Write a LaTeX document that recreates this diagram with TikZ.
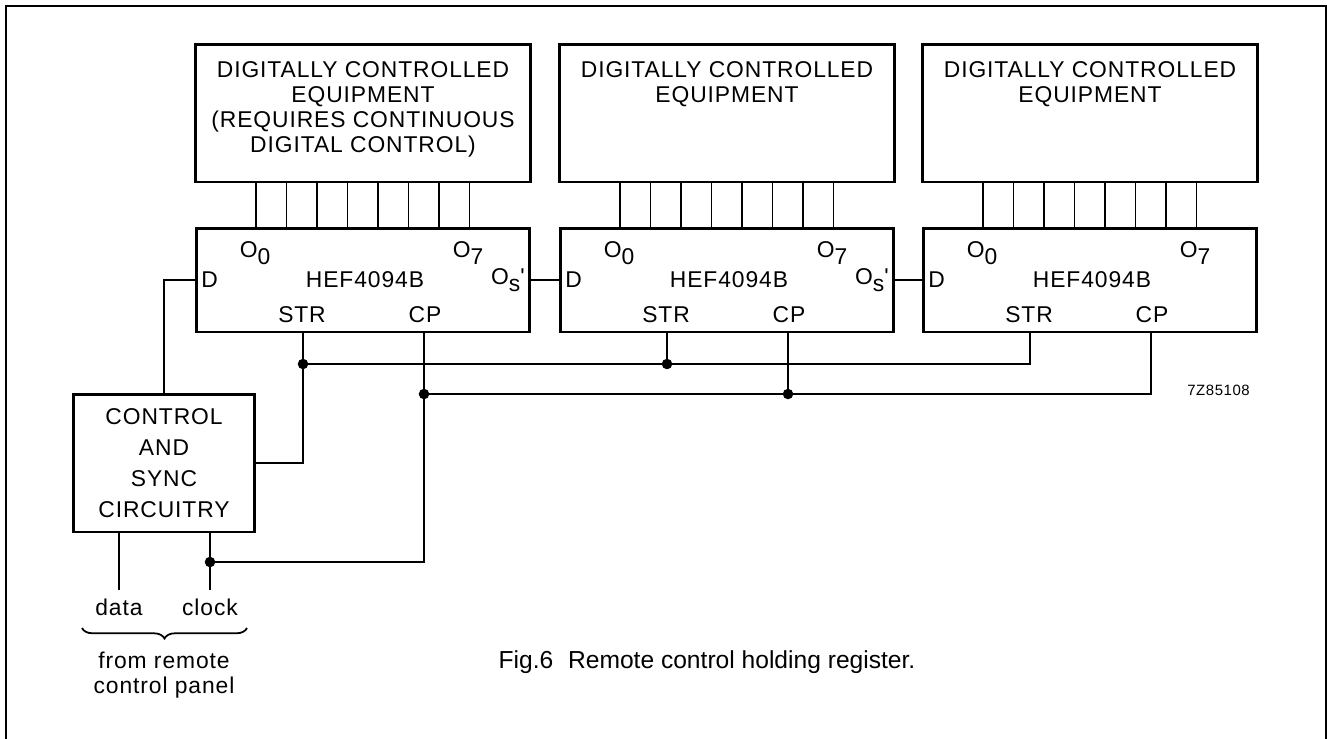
\documentclass[tikz,border=0pt]{standalone}
\usepackage{fontspec}
\setmainfont{Liberation Sans}
\newfontfamily\chipfont[LetterSpace=4]{Liberation Sans}
\usetikzlibrary{decorations.pathreplacing}

\begin{document}
\begin{tikzpicture}[x=0.02cm, y=-0.02cm,
    blk/.style={draw, line width=1.7pt, minimum width=6.7cm, minimum height=2.76cm},
    chip/.style={draw, line width=1.7pt, minimum width=6.66cm, minimum height=2.08cm},
    wire/.style={line width=1pt},
    txt/.style={font=\chipfont\fontsize{13}{14.2}\selectfont, align=center},
    dot/.style={circle, fill, inner sep=0pt, minimum size=6pt}]
    \useasboundingbox (0,0) rectangle (1327,738);
    \draw[line width=1.2pt] (6,760) -- (6,6) -- (1326,6) -- (1326,760);
    % equipment and registers
    \foreach \n/\x in {1/363, 2/727, 3/1090} {
        \node[blk] (e\n) at (\x,113) {};
        \node[chip] (c\n) at (\x,280) {};
        \node[txt, anchor=west] (c\n-d) at (c\n.west) {D};
        \node[txt] (c\n-name) at (\x+2,280) {HEF4094B};
        \node[txt] (c\n-o0) at (\x-108,253) {O\raisebox{-4pt}{0}};
        \node[txt] (c\n-o7) at (\x+105,253) {O\raisebox{-4pt}{7}};
        \node[txt] (c\n-str) at (\x-61,315) {STR};
        \node[txt] (c\n-cp) at (\x+62,315) {CP};
        \path (c\n.south) ++(-60,0) coordinate (c\n-strpin);
        \path (c\n.south) ++(61,0) coordinate (c\n-cppin);
        \foreach \i in {0,...,7} {
            \coordinate (p) at (\x-107+30.5*\i,0);
            \draw[wire] (e\n.south -| p) -- (c\n.north -| p);
        }
    }
    \node[txt, anchor=north] (e1-text) at (e1.north) [yshift=-0.25cm]
        {DIGITALLY CONTROLLED\\EQUIPMENT\\(REQUIRES CONTINUOUS\\DIGITAL CONTROL)};
    \node[txt, anchor=north] (e2-text) at (e2.north) [yshift=-0.25cm]
        {DIGITALLY CONTROLLED\\EQUIPMENT};
    \node[txt, anchor=north] (e3-text) at (e3.north) [yshift=-0.25cm]
        {DIGITALLY CONTROLLED\\EQUIPMENT};
    \node[txt, anchor=east] (c1-os) at (c1.east) {O\raisebox{-4pt}{s}'};
    \node[txt, anchor=east] (c2-os) at (c2.east) {O\raisebox{-4pt}{s}'};
    \draw[wire] (c1.east) -- (c2.west);
    \draw[wire] (c2.east) -- (c3.west);
    % control block
    \node[blk, txt, minimum width=3.64cm, font=\chipfont\fontsize{13}{17.6}\selectfont]
        (ctl) at (164,463) {CONTROL\\AND\\SYNC\\CIRCUITRY};
    \coordinate (strrow) at (0,364);
    \coordinate (cprow) at (0,394);
    \coordinate (clkrow) at (0,562);
    \coordinate (datain) at (119,590);
    \coordinate (clkin) at (210,590);
    \draw[wire] (ctl.north) |- (c1.west);
    \draw[wire] (ctl.east) -| (c1-strpin);
    \draw[wire] (c1-strpin |- strrow) -| (c3-strpin);
    \draw[wire] (c2-strpin) -- (c2-strpin |- strrow);
    \draw[wire] (ctl.south -| datain) -- (datain);
    \draw[wire] (ctl.south -| clkin) -- (clkin);
    \draw[wire] (clkin |- clkrow) -| (c1-cppin);
    \draw[wire] (c1-cppin |- cprow) -| (c3-cppin);
    \draw[wire] (c2-cppin) -- (c2-cppin |- cprow);
    \node[dot] (j1) at (c1-strpin |- strrow) {};
    \node[dot] (j2) at (c2-strpin |- strrow) {};
    \node[dot] (j3) at (c1-cppin |- cprow) {};
    \node[dot] (j4) at (c2-cppin |- cprow) {};
    \node[dot] (j5) at (clkin |- clkrow) {};
    % inputs
    \node[txt, anchor=north] (data) at (datain) [yshift=-0.06cm] {data};
    \node[txt, anchor=north] (clock) at (clkin) [yshift=-0.06cm] {clock};
    \draw[wire, decorate, decoration={brace, mirror, amplitude=6pt}] (82,628) -- (247,628);
    \node[txt] (panel) at (164,675) {from remote\\control panel};
    \node[font=\chipfont\fontsize{8.5}{10}\selectfont, anchor=east] (code) at (1256,390) {7Z85108};
    \node[font=\fontsize{14}{16}\selectfont] (caption) at (707,662)
        {Fig.6\hspace{0.6em}Remote control holding register.};
\end{tikzpicture}
\end{document}
